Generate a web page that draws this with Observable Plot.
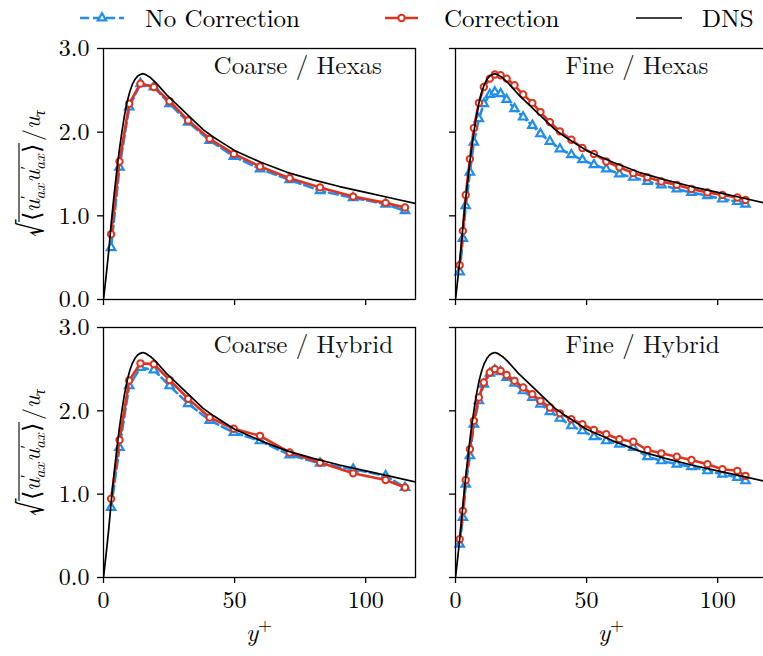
<!DOCTYPE html>
<html><head><meta charset="utf-8">
<script src="https://cdn.jsdelivr.net/npm/d3@7"></script>
<script src="https://cdn.jsdelivr.net/npm/@observablehq/plot@0.6"></script>
<style>
html,body{margin:0;padding:0;background:#fff;overflow:hidden;}
#fig{position:relative;width:763px;height:656px;overflow:hidden;font-family:'Latin Modern Roman','Liberation Serif',serif;background:#fff;}
#fig > svg{position:absolute;overflow:visible;}
</style></head><body><div id="fig"></div>
<script>
// ---------- data ----------
const seriesNames = ["No Correction", "Correction", "DNS"];
const panelTitles = ["Coarse / Hexas", "Fine / Hexas", "Coarse / Hybrid", "Fine / Hybrid"];
const xTicks = [0, 50, 100];
const yTicks = [0, 1, 2, 3];
const xLabelText = "y";
const xLabelSup = "+";

// DNS reference profile
const dnsX = [0, 1, 2, 3, 4, 5, 6, 7, 8, 9, 10, 11, 12, 13, 14, 15, 16, 17, 18, 19, 20, 22, 24, 26, 28, 30, 34, 38, 42, 46, 50, 55, 60, 65, 70, 80, 90, 100, 110, 120];
const dnsY = [0, 0.28, 0.58, 0.93, 1.24, 1.52, 1.78, 2.0, 2.2, 2.36, 2.48, 2.57, 2.63, 2.67, 2.69, 2.70, 2.69, 2.67, 2.65, 2.62, 2.59, 2.52, 2.45, 2.39, 2.33, 2.27, 2.15, 2.03, 1.94, 1.86, 1.78, 1.71, 1.64, 1.58, 1.52, 1.43, 1.35, 1.28, 1.21, 1.14];

// coarse mesh sample locations
const coarseX = [2.9, 6.1, 9.8, 14.1, 19.2, 25.2, 32.3, 40.5, 49.7, 59.7, 71.0, 82.6, 95.2, 107.6, 115.0];
const coarseHexasNoCorr = [0.62, 1.58, 2.30, 2.58, 2.54, 2.34, 2.12, 1.90, 1.71, 1.56, 1.43, 1.30, 1.215, 1.14, 1.06];
const coarseHexasCorr   = [0.78, 1.65, 2.34, 2.58, 2.54, 2.37, 2.14, 1.92, 1.74, 1.59, 1.45, 1.34, 1.23, 1.155, 1.10];
const coarseHybridNoCorr = [0.84, 1.56, 2.30, 2.52, 2.49, 2.30, 2.085, 1.885, 1.74, 1.64, 1.47, 1.37, 1.30, 1.22, 1.08];
const coarseHybridCorr   = [0.945, 1.65, 2.365, 2.57, 2.56, 2.37, 2.145, 1.92, 1.785, 1.70, 1.50, 1.38, 1.25, 1.17, 1.08];

// fine mesh sample locations
const fineX = [1.6, 2.8, 3.9, 5.5, 7.0, 8.9, 10.8, 13.1, 15.0, 17.2, 19.5, 22.5, 25.8, 29.3, 32.4, 36.0, 39.8, 44.2, 48.4, 52.8, 57.5, 62.5, 67.8, 73.2, 78.5, 84.4, 90.0, 96.1, 101.8, 107.5, 110.6];
const fineHexasNoCorr = [0.33, 0.73, 1.12, 1.52, 1.88, 2.16, 2.34, 2.45, 2.48, 2.46, 2.39, 2.28, 2.18, 2.08, 1.98, 1.89, 1.80, 1.73, 1.67, 1.61, 1.56, 1.50, 1.46, 1.41, 1.37, 1.32, 1.28, 1.24, 1.20, 1.17, 1.14];
const fineHexasCorr   = [0.41, 0.82, 1.25, 1.68, 2.05, 2.35, 2.54, 2.64, 2.69, 2.68, 2.64, 2.56, 2.45, 2.35, 2.24, 2.12, 2.01, 1.91, 1.81, 1.74, 1.65, 1.58, 1.51, 1.46, 1.41, 1.37, 1.32, 1.28, 1.25, 1.22, 1.19];
const fineHybridNoCorr = [0.40, 0.72, 1.12, 1.46, 1.84, 2.12, 2.32, 2.45, 2.49, 2.47, 2.40, 2.33, 2.24, 2.16, 2.08, 1.99, 1.91, 1.82, 1.76, 1.69, 1.64, 1.60, 1.56, 1.45, 1.40, 1.36, 1.33, 1.28, 1.24, 1.20, 1.16];
const fineHybridCorr   = [0.46, 0.80, 1.17, 1.54, 1.88, 2.16, 2.34, 2.46, 2.50, 2.48, 2.43, 2.36, 2.28, 2.20, 2.12, 2.04, 1.97, 1.90, 1.84, 1.77, 1.72, 1.66, 1.63, 1.53, 1.49, 1.45, 1.41, 1.36, 1.30, 1.28, 1.22];

// ---------- styling ----------
const BLUE = "#1f8eee";
const RED = "#e3321c";
const FONT = "'Latin Modern Roman', 'Liberation Serif', serif";
const TRI_R = 3.1, CIRC_R = 3.2;

const zip = (xs, ys) => xs.map((x, i) => ({x, y: ys[i]}));
const dns = zip(dnsX, dnsY);

const fig = d3.select("#fig");

function panel({title, xs, noCorr, corr, left, top, width, height, mL, mR, mT, mB, showX, showY}) {
  const svg = Plot.plot({
    width, height,
    marginLeft: mL, marginRight: mR, marginTop: mT, marginBottom: mB,
    style: {fontFamily: FONT, fontSize: "24px", color: "black", background: "transparent", overflow: "visible", maxWidth: "none"},
    x: {domain: [0, 119], ticks: xTicks, tickSize: 6, tickPadding: 7, tickFormat: showX ? (d => String(d)) : (() => ""), label: null},
    y: {domain: [0, 3], ticks: yTicks, tickSize: 6, tickPadding: 8, tickFormat: showY ? d3.format(".1f") : (() => ""), label: null},
    marks: [
      Plot.line(zip(xs, noCorr), {x: "x", y: "y", stroke: BLUE, strokeWidth: 2.6, strokeDasharray: "9,4"}),
      Plot.dot(zip(xs, noCorr), {x: "x", y: "y", symbol: "triangle", r: TRI_R, stroke: BLUE, strokeWidth: 2.2, fill: "white"}),
      Plot.line(zip(xs, corr), {x: "x", y: "y", stroke: RED, strokeWidth: 2.6}),
      Plot.dot(zip(xs, corr), {x: "x", y: "y", symbol: "circle", r: CIRC_R, stroke: RED, strokeWidth: 2, fill: "white"}),
      Plot.line(dns, {x: "x", y: "y", stroke: "black", strokeWidth: 1.7, clip: true}),
      Plot.frame({stroke: "black", strokeWidth: 1.3}),
      Plot.text([title], {x: 42, y: 2.79, text: d => d, textAnchor: "start", lineAnchor: "middle", fontSize: 25, fill: "#111"})
    ]
  });
  svg.style.left = left + "px";
  svg.style.top = top + "px";
  fig.node().appendChild(svg);
  d3.select(svg).selectAll("g[aria-label='x-axis tick'] path, g[aria-label='y-axis tick'] path").attr("stroke-width", 1.3);
  if (showX) {
    const t = d3.select(svg).append("text")
      .attr("x", mL + 156).attr("y", 324)
      .attr("text-anchor", "middle").style("font-family", FONT).attr("font-size", 25).attr("fill", "black");
    t.append("tspan").attr("font-style", "italic").text(xLabelText);
    t.append("tspan").attr("font-size", 18).attr("dy", -10).text(xLabelSup);
  }
  return svg;
}

panel({title: panelTitles[0], xs: coarseX, noCorr: coarseHexasNoCorr, corr: coarseHexasCorr,
  left: 0, top: 28, width: 440, height: 285, mL: 103, mR: 25, mT: 20, mB: 14, showX: false, showY: true});
panel({title: panelTitles[1], xs: fineX, noCorr: fineHexasNoCorr, corr: fineHexasCorr,
  left: 440, top: 28, width: 340, height: 285, mL: 15, mR: 13, mT: 20, mB: 14, showX: false, showY: false});
panel({title: panelTitles[2], xs: coarseX, noCorr: coarseHybridNoCorr, corr: coarseHybridCorr,
  left: 0, top: 317, width: 440, height: 339, mL: 103, mR: 25, mT: 10, mB: 79, showX: true, showY: true});
panel({title: panelTitles[3], xs: fineX, noCorr: fineHybridNoCorr, corr: fineHybridCorr,
  left: 440, top: 317, width: 340, height: 339, mL: 15, mR: 13, mT: 10, mB: 79, showX: true, showY: false});

// ---------- y labels ----------
const ylab = fig.append("svg").attr("width", 60).attr("height", 656).style("left", "0px").style("top", "0px");
function yLabel(cx, cy) {
  const g = ylab.append("g").attr("transform", `translate(${cx},${cy}) rotate(-90)`);
  const inner = g.append("g");
  const rad = inner.append("text").style("font-family", FONT).attr("font-size", 34).attr("fill", "black").text("\u221A");
  const rw = rad.node().getComputedTextLength();
  const body = inner.append("text").attr("x", rw).style("font-family", FONT).attr("font-size", 24).attr("fill", "black");
  function uprime(t) {
    t.append("tspan").attr("font-style", "italic").text("u");
    t.append("tspan").attr("font-size", 16).attr("dy", -8).text("\u2032");
    t.append("tspan").attr("font-size", 16).attr("font-style", "italic").attr("dx", -4).attr("dy", 13).text("ax");
    t.append("tspan").attr("dy", -5).text("\u200A");
  }
  body.append("tspan").text("\u27E8");
  uprime(body);
  uprime(body);
  body.append("tspan").text("\u27E9");
  const bw = body.node().getBBox().width;
  inner.append("line").attr("x1", rw - 1).attr("x2", rw + bw + 1).attr("y1", -21).attr("y2", -21).attr("stroke", "black").attr("stroke-width", 1.1);
  const rest = inner.append("text").attr("x", rw + bw + 3).style("font-family", FONT).attr("font-size", 24).attr("fill", "black");
  rest.append("tspan").text("/");
  rest.append("tspan").attr("font-style", "italic").text("u");
  rest.append("tspan").attr("font-size", 16).attr("font-style", "italic").attr("dy", 5).text("\u03C4");
  const total = inner.node().getBBox().width;
  inner.attr("transform", `translate(${-total / 2},0)`);
}
yLabel(40, 173);
yLabel(40, 452);

// ---------- legend ----------
const leg = fig.append("svg").attr("width", 763).attr("height", 44).style("left", "0px").style("top", "0px");
const ly = 18;
const legendItems = [
  {name: seriesNames[0], x1: 80, x2: 124, color: BLUE, dash: "9,4", sym: d3.symbolTriangle, r: TRI_R, sw: 2.2, text: 145},
  {name: seriesNames[1], x1: 385, x2: 418, color: RED, dash: null, sym: d3.symbolCircle, r: CIRC_R, sw: 2, text: 444},
  {name: seriesNames[2], x1: 636, x2: 682, color: "black", dash: null, sym: null, text: 702}
];
for (const it of legendItems) {
  leg.append("line").attr("x1", it.x1).attr("x2", it.x2).attr("y1", ly).attr("y2", ly)
    .attr("stroke", it.color).attr("stroke-width", it.sym ? 2.6 : 1.7).attr("stroke-dasharray", it.dash);
  if (it.sym) {
    leg.append("path").attr("d", d3.symbol(it.sym, Math.PI * it.r * it.r)())
      .attr("transform", `translate(${(it.x1 + it.x2) / 2},${ly})`)
      .attr("fill", "white").attr("stroke", it.color).attr("stroke-width", it.sw);
  }
  leg.append("text").attr("x", it.text).attr("y", ly + 9).style("font-family", FONT).attr("font-size", 25).attr("fill", "black").text(it.name);
}
</script></body></html>
